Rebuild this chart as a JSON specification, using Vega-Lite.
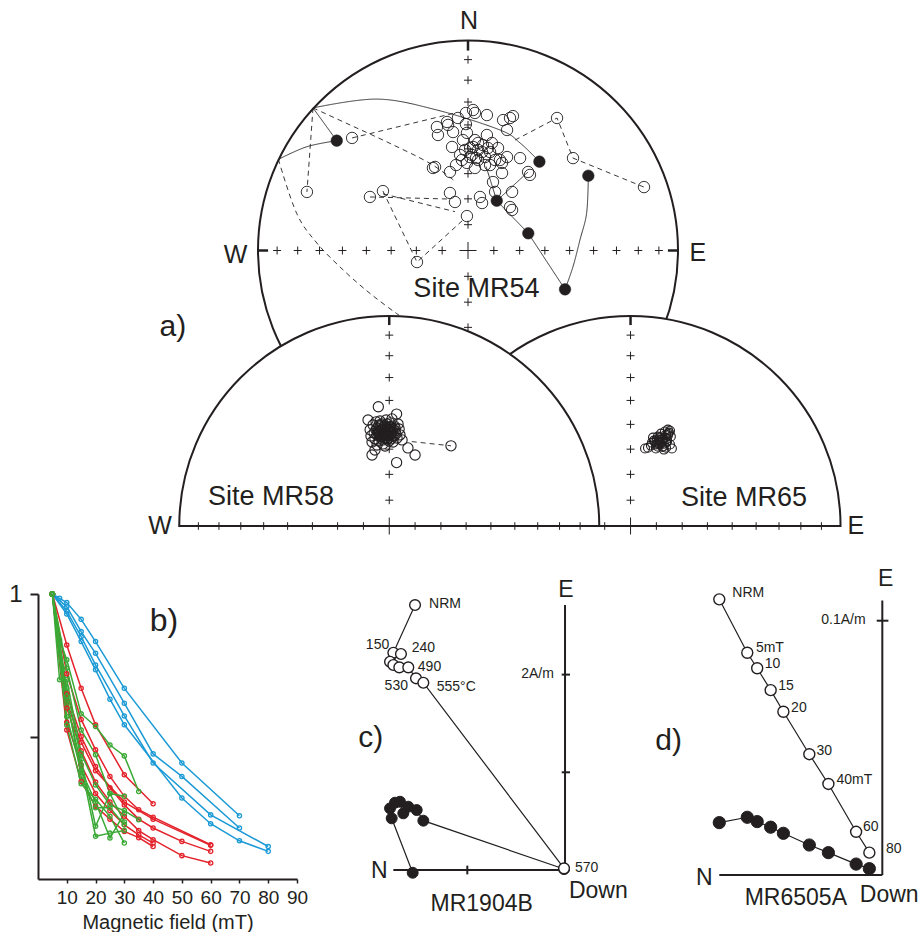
{
  "$schema": "https://vega.github.io/schema/vega-lite/v6.json",
  "background": "white",
  "padding": 0,
  "spacing": 0,
  "bounds": "flush",
  "config": {"view": {"stroke": null}, "font": "Liberation Sans"},
  "datasets": {
    "nets": [
      {"net": "MR54", "x": 0, "y": 0},
      {"net": "MR65", "x": 0.774, "y": -1.312},
      {"net": "MR58", "x": -0.375, "y": -1.312}
    ],
    "ticks": [
      {"kind": "plus", "x": 0, "y": 0.123}, {"kind": "plus", "x": 0, "y": 0.246}, {"kind": "plus", "x": 0, "y": 0.366}, {"kind": "plus", "x": 0, "y": 0.484},
      {"kind": "plus", "x": 0, "y": 0.598}, {"kind": "plus", "x": 0, "y": 0.707}, {"kind": "plus", "x": 0, "y": 0.811}, {"kind": "plus", "x": 0, "y": 0.909},
      {"kind": "plus", "x": 0, "y": -0.123}, {"kind": "plus", "x": 0, "y": -0.246}, {"kind": "plus", "x": 0, "y": -0.366},
      {"kind": "plus", "x": 0.123, "y": 0}, {"kind": "plus", "x": 0.246, "y": 0}, {"kind": "plus", "x": 0.366, "y": 0}, {"kind": "plus", "x": 0.484, "y": 0},
      {"kind": "plus", "x": 0.598, "y": 0}, {"kind": "plus", "x": 0.707, "y": 0}, {"kind": "plus", "x": 0.811, "y": 0}, {"kind": "plus", "x": 0.909, "y": 0},
      {"kind": "plus", "x": -0.123, "y": 0}, {"kind": "plus", "x": -0.246, "y": 0}, {"kind": "plus", "x": -0.366, "y": 0}, {"kind": "plus", "x": -0.484, "y": 0},
      {"kind": "plus", "x": -0.598, "y": 0}, {"kind": "plus", "x": -0.707, "y": 0}, {"kind": "plus", "x": -0.811, "y": 0}, {"kind": "plus", "x": -0.909, "y": 0},
      {"kind": "center", "x": 0, "y": 0},
      {"kind": "plus", "x": -0.375, "y": -1.189}, {"kind": "plus", "x": -0.375, "y": -1.066}, {"kind": "plus", "x": -0.375, "y": -0.946}, {"kind": "plus", "x": -0.375, "y": -0.828},
      {"kind": "plus", "x": -0.375, "y": -0.714}, {"kind": "plus", "x": -0.375, "y": -0.605}, {"kind": "plus", "x": -0.375, "y": -0.501}, {"kind": "plus", "x": -0.375, "y": -0.403},
      {"kind": "vtick", "x": -0.498, "y": -1.312}, {"kind": "vtick", "x": -0.621, "y": -1.312}, {"kind": "vtick", "x": -0.741, "y": -1.312}, {"kind": "vtick", "x": -0.859, "y": -1.312},
      {"kind": "vtick", "x": -0.973, "y": -1.312}, {"kind": "vtick", "x": -1.082, "y": -1.312}, {"kind": "vtick", "x": -1.186, "y": -1.312}, {"kind": "vtick", "x": -1.284, "y": -1.312},
      {"kind": "vtick", "x": -0.252, "y": -1.312}, {"kind": "vtick", "x": -0.129, "y": -1.312}, {"kind": "vtick", "x": -0.009, "y": -1.312}, {"kind": "vtick", "x": 0.109, "y": -1.312},
      {"kind": "vtick", "x": 0.223, "y": -1.312}, {"kind": "vtick", "x": 0.332, "y": -1.312}, {"kind": "vtick", "x": 0.436, "y": -1.312}, {"kind": "vtick", "x": 0.534, "y": -1.312},
      {"kind": "ctick", "x": -0.375, "y": -1.312},
      {"kind": "plus", "x": 0.774, "y": -1.189}, {"kind": "plus", "x": 0.774, "y": -1.066}, {"kind": "plus", "x": 0.774, "y": -0.946}, {"kind": "plus", "x": 0.774, "y": -0.828},
      {"kind": "plus", "x": 0.774, "y": -0.714}, {"kind": "plus", "x": 0.774, "y": -0.605}, {"kind": "plus", "x": 0.774, "y": -0.501}, {"kind": "plus", "x": 0.774, "y": -0.403},
      {"kind": "vtick", "x": 0.651, "y": -1.312}, {"kind": "vtick", "x": 0.897, "y": -1.312}, {"kind": "vtick", "x": 1.020, "y": -1.312}, {"kind": "vtick", "x": 1.140, "y": -1.312},
      {"kind": "vtick", "x": 1.258, "y": -1.312}, {"kind": "vtick", "x": 1.372, "y": -1.312}, {"kind": "vtick", "x": 1.481, "y": -1.312}, {"kind": "vtick", "x": 1.585, "y": -1.312},
      {"kind": "vtick", "x": 1.683, "y": -1.312},
      {"kind": "ctick", "x": 0.774, "y": -1.312}
    ],
    "edgeticks": [
      {"x": 0, "y": 1, "x2": 0, "y2": 0.952},
      {"x": -1, "y": 0, "x2": -0.952, "y2": 0},
      {"x": 1, "y": 0, "x2": 0.952, "y2": 0},
      {"x": -0.375, "y": -0.312, "x2": -0.375, "y2": -0.355},
      {"x": 0.774, "y": -0.312, "x2": 0.774, "y2": -0.355}
    ],
    "gc": [
      {"net": "MR54", "seg": "S1", "i": 0, "x": -0.738, "y": 0.679, "hemisphere": "lower", "trace": "arc"},
      {"net": "MR54", "seg": "S1", "i": 1, "x": -0.433, "y": 0.721, "hemisphere": "lower", "trace": "arc"},
      {"net": "MR54", "seg": "S1", "i": 2, "x": -0.148, "y": 0.669, "hemisphere": "lower", "trace": "arc"},
      {"net": "MR54", "seg": "S1", "i": 3, "x": 0.152, "y": 0.574, "hemisphere": "lower", "trace": "arc"},
      {"net": "MR54", "seg": "S1", "i": 4, "x": 0.248, "y": 0.512, "hemisphere": "lower", "trace": "arc"},
      {"net": "MR54", "seg": "S1", "i": 5, "x": 0.340, "y": 0.423, "hemisphere": "lower", "trace": "arc"},
      {"net": "MR54", "seg": "S2", "i": 0, "x": -0.738, "y": 0.679, "hemisphere": "lower", "trace": "straight"},
      {"net": "MR54", "seg": "S2", "i": 1, "x": -0.625, "y": 0.523, "hemisphere": "lower", "trace": "straight"},
      {"net": "MR54", "seg": "S3", "i": 0, "x": -0.903, "y": 0.434, "hemisphere": "lower", "trace": "arc"},
      {"net": "MR54", "seg": "S3", "i": 1, "x": -0.768, "y": 0.494, "hemisphere": "lower", "trace": "arc"},
      {"net": "MR54", "seg": "S3", "i": 2, "x": -0.625, "y": 0.523, "hemisphere": "lower", "trace": "arc"},
      {"net": "MR54", "seg": "S4", "i": 0, "x": 0.573, "y": 0.356, "hemisphere": "lower", "trace": "arc"},
      {"net": "MR54", "seg": "S4", "i": 1, "x": 0.565, "y": 0.179, "hemisphere": "lower", "trace": "arc"},
      {"net": "MR54", "seg": "S4", "i": 2, "x": 0.533, "y": 0.050, "hemisphere": "lower", "trace": "arc"},
      {"net": "MR54", "seg": "S4", "i": 3, "x": 0.500, "y": -0.077, "hemisphere": "lower", "trace": "arc"},
      {"net": "MR54", "seg": "S4", "i": 4, "x": 0.462, "y": -0.185, "hemisphere": "lower", "trace": "arc"},
      {"net": "MR54", "seg": "S5", "i": 0, "x": 0.137, "y": 0.237, "hemisphere": "lower", "trace": "straight"},
      {"net": "MR54", "seg": "S5", "i": 1, "x": 0.287, "y": 0.082, "hemisphere": "lower", "trace": "straight"},
      {"net": "MR54", "seg": "S5", "i": 2, "x": 0.462, "y": -0.185, "hemisphere": "lower", "trace": "straight"},
      {"net": "MR54", "seg": "S6", "i": 0, "x": 0.137, "y": 0.237, "hemisphere": "lower", "trace": "straight"},
      {"net": "MR54", "seg": "S6", "i": 1, "x": 0.086, "y": 0.400, "hemisphere": "lower", "trace": "straight"},
      {"net": "MR54", "seg": "S7", "i": 0, "x": 0.137, "y": 0.237, "hemisphere": "lower", "trace": "straight"},
      {"net": "MR54", "seg": "S7", "i": 1, "x": 0.286, "y": 0.374, "hemisphere": "lower", "trace": "straight"},
      {"net": "MR54", "seg": "D1", "i": 0, "x": -0.738, "y": 0.679, "hemisphere": "upper", "trace": "arc"},
      {"net": "MR54", "seg": "D1", "i": 1, "x": -0.562, "y": 0.598, "hemisphere": "upper", "trace": "arc"},
      {"net": "MR54", "seg": "D1", "i": 2, "x": -0.371, "y": 0.510, "hemisphere": "upper", "trace": "arc"},
      {"net": "MR54", "seg": "D1", "i": 3, "x": -0.181, "y": 0.415, "hemisphere": "upper", "trace": "arc"},
      {"net": "MR54", "seg": "D1", "i": 4, "x": -0.070, "y": 0.336, "hemisphere": "upper", "trace": "arc"},
      {"net": "MR54", "seg": "D2", "i": 0, "x": -0.738, "y": 0.679, "hemisphere": "upper", "trace": "straight"},
      {"net": "MR54", "seg": "D2", "i": 1, "x": -0.767, "y": 0.279, "hemisphere": "upper", "trace": "straight"},
      {"net": "MR54", "seg": "D3", "i": 0, "x": -0.903, "y": 0.434, "hemisphere": "upper", "trace": "arc"},
      {"net": "MR54", "seg": "D3", "i": 1, "x": -0.816, "y": 0.177, "hemisphere": "upper", "trace": "arc"},
      {"net": "MR54", "seg": "D3", "i": 2, "x": -0.720, "y": 0.036, "hemisphere": "upper", "trace": "arc"},
      {"net": "MR54", "seg": "D3", "i": 3, "x": -0.594, "y": -0.093, "hemisphere": "upper", "trace": "arc"},
      {"net": "MR54", "seg": "D3", "i": 4, "x": -0.467, "y": -0.204, "hemisphere": "upper", "trace": "arc"},
      {"net": "MR54", "seg": "D3", "i": 5, "x": -0.340, "y": -0.300, "hemisphere": "upper", "trace": "arc"},
      {"net": "MR54", "seg": "D3", "i": 6, "x": -0.250, "y": -0.360, "hemisphere": "upper", "trace": "arc"},
      {"net": "MR54", "seg": "D4", "i": 0, "x": -0.552, "y": 0.536, "hemisphere": "upper", "trace": "straight"},
      {"net": "MR54", "seg": "D4", "i": 1, "x": -0.062, "y": 0.655, "hemisphere": "upper", "trace": "straight"},
      {"net": "MR54", "seg": "D5", "i": 0, "x": -0.467, "y": 0.255, "hemisphere": "upper", "trace": "straight"},
      {"net": "MR54", "seg": "D5", "i": 1, "x": -0.086, "y": 0.245, "hemisphere": "upper", "trace": "straight"},
      {"net": "MR54", "seg": "D6", "i": 0, "x": -0.405, "y": 0.270, "hemisphere": "upper", "trace": "straight"},
      {"net": "MR54", "seg": "D6", "i": 1, "x": -0.062, "y": 0.185, "hemisphere": "upper", "trace": "straight"},
      {"net": "MR54", "seg": "D7", "i": 0, "x": -0.405, "y": 0.283, "hemisphere": "upper", "trace": "straight"},
      {"net": "MR54", "seg": "D7", "i": 1, "x": -0.243, "y": -0.055, "hemisphere": "upper", "trace": "straight"},
      {"net": "MR54", "seg": "D7", "i": 2, "x": -0.024, "y": 0.145, "hemisphere": "upper", "trace": "straight"},
      {"net": "MR54", "seg": "D8", "i": 0, "x": 0.224, "y": 0.526, "hemisphere": "upper", "trace": "straight"},
      {"net": "MR54", "seg": "D8", "i": 1, "x": 0.424, "y": 0.631, "hemisphere": "upper", "trace": "straight"},
      {"net": "MR54", "seg": "D8", "i": 2, "x": 0.500, "y": 0.440, "hemisphere": "upper", "trace": "straight"},
      {"net": "MR54", "seg": "D8", "i": 3, "x": 0.838, "y": 0.302, "hemisphere": "upper", "trace": "straight"},
      {"net": "MR58", "seg": "M1", "i": 0, "x": -0.268, "y": -0.910, "hemisphere": "upper", "trace": "straight"},
      {"net": "MR58", "seg": "M1", "i": 1, "x": -0.081, "y": -0.930, "hemisphere": "upper", "trace": "straight"}
    ],
    "dirs": [
      {"net": "MR54", "hemisphere": "upper", "x": -0.552, "y": 0.536}, {"net": "MR54", "hemisphere": "upper", "x": -0.767, "y": 0.279},
      {"net": "MR54", "hemisphere": "upper", "x": -0.467, "y": 0.255}, {"net": "MR54", "hemisphere": "upper", "x": -0.405, "y": 0.283},
      {"net": "MR54", "hemisphere": "upper", "x": -0.243, "y": -0.055}, {"net": "MR54", "hemisphere": "upper", "x": -0.148, "y": 0.588},
      {"net": "MR54", "hemisphere": "upper", "x": -0.100, "y": 0.612}, {"net": "MR54", "hemisphere": "upper", "x": -0.143, "y": 0.550},
      {"net": "MR54", "hemisphere": "upper", "x": -0.071, "y": 0.564}, {"net": "MR54", "hemisphere": "upper", "x": -0.076, "y": 0.493},
      {"net": "MR54", "hemisphere": "upper", "x": -0.024, "y": 0.526}, {"net": "MR54", "hemisphere": "upper", "x": -0.157, "y": 0.398},
      {"net": "MR54", "hemisphere": "upper", "x": -0.086, "y": 0.374}, {"net": "MR54", "hemisphere": "upper", "x": -0.005, "y": 0.417},
      {"net": "MR54", "hemisphere": "upper", "x": -0.086, "y": 0.274}, {"net": "MR54", "hemisphere": "upper", "x": -0.062, "y": 0.231},
      {"net": "MR54", "hemisphere": "upper", "x": -0.005, "y": 0.164}, {"net": "MR54", "hemisphere": "upper", "x": -0.010, "y": 0.655},
      {"net": "MR54", "hemisphere": "upper", "x": 0.024, "y": 0.669}, {"net": "MR54", "hemisphere": "upper", "x": -0.048, "y": 0.631},
      {"net": "MR54", "hemisphere": "upper", "x": 0.033, "y": 0.655}, {"net": "MR54", "hemisphere": "upper", "x": 0.090, "y": 0.645},
      {"net": "MR54", "hemisphere": "upper", "x": 0.167, "y": 0.621}, {"net": "MR54", "hemisphere": "upper", "x": 0.200, "y": 0.631},
      {"net": "MR54", "hemisphere": "upper", "x": 0.214, "y": 0.640}, {"net": "MR54", "hemisphere": "upper", "x": 0.186, "y": 0.574},
      {"net": "MR54", "hemisphere": "upper", "x": 0.424, "y": 0.631}, {"net": "MR54", "hemisphere": "upper", "x": 0.500, "y": 0.440},
      {"net": "MR54", "hemisphere": "upper", "x": 0.838, "y": 0.302}, {"net": "MR54", "hemisphere": "upper", "x": -0.095, "y": 0.598},
      {"net": "MR54", "hemisphere": "upper", "x": -0.005, "y": 0.560}, {"net": "MR54", "hemisphere": "upper", "x": 0.033, "y": 0.526},
      {"net": "MR54", "hemisphere": "upper", "x": 0.090, "y": 0.550}, {"net": "MR54", "hemisphere": "upper", "x": 0.024, "y": 0.493},
      {"net": "MR54", "hemisphere": "upper", "x": 0.067, "y": 0.469}, {"net": "MR54", "hemisphere": "upper", "x": 0.081, "y": 0.445},
      {"net": "MR54", "hemisphere": "upper", "x": 0.010, "y": 0.445}, {"net": "MR54", "hemisphere": "upper", "x": 0.143, "y": 0.488},
      {"net": "MR54", "hemisphere": "upper", "x": 0.152, "y": 0.431}, {"net": "MR54", "hemisphere": "upper", "x": 0.186, "y": 0.445},
      {"net": "MR54", "hemisphere": "upper", "x": 0.248, "y": 0.440}, {"net": "MR54", "hemisphere": "upper", "x": 0.162, "y": 0.417},
      {"net": "MR54", "hemisphere": "upper", "x": 0.162, "y": 0.369}, {"net": "MR54", "hemisphere": "upper", "x": 0.286, "y": 0.374},
      {"net": "MR54", "hemisphere": "upper", "x": 0.295, "y": 0.360}, {"net": "MR54", "hemisphere": "upper", "x": 0.119, "y": 0.326},
      {"net": "MR54", "hemisphere": "upper", "x": 0.210, "y": 0.279}, {"net": "MR54", "hemisphere": "upper", "x": 0.057, "y": 0.255},
      {"net": "MR54", "hemisphere": "upper", "x": 0.067, "y": 0.226}, {"net": "MR54", "hemisphere": "upper", "x": 0.129, "y": 0.279},
      {"net": "MR54", "hemisphere": "upper", "x": 0.200, "y": 0.207}, {"net": "MR54", "hemisphere": "upper", "x": 0.210, "y": 0.193},
      {"net": "MR54", "hemisphere": "upper", "x": -0.167, "y": 0.393}, {"net": "MR54", "hemisphere": "upper", "x": -0.038, "y": 0.455},
      {"net": "MR54", "hemisphere": "upper", "x": 0.048, "y": 0.431}, {"net": "MR54", "hemisphere": "upper", "x": 0.105, "y": 0.407},
      {"net": "MR54", "hemisphere": "upper", "x": -0.014, "y": 0.479}, {"net": "MR54", "hemisphere": "upper", "x": 0.048, "y": 0.479},
      {"net": "MR54", "hemisphere": "upper", "x": 0.019, "y": 0.455}, {"net": "MR54", "hemisphere": "upper", "x": 0.095, "y": 0.488},
      {"net": "MR54", "hemisphere": "upper", "x": 0.071, "y": 0.502}, {"net": "MR54", "hemisphere": "upper", "x": 0.038, "y": 0.440},
      {"net": "MR54", "hemisphere": "upper", "x": 0.048, "y": 0.512}, {"net": "MR54", "hemisphere": "upper", "x": 0.010, "y": 0.488},
      {"net": "MR54", "hemisphere": "upper", "x": 0.105, "y": 0.469}, {"net": "MR54", "hemisphere": "upper", "x": 0.129, "y": 0.431},
      {"net": "MR54", "hemisphere": "upper", "x": -0.029, "y": 0.431}, {"net": "MR54", "hemisphere": "upper", "x": 0.081, "y": 0.407},
      {"net": "MR54", "hemisphere": "upper", "x": 0.033, "y": 0.393}, {"net": "MR54", "hemisphere": "upper", "x": -0.057, "y": 0.407},
      {"net": "MR54", "hemisphere": "upper", "x": 0.114, "y": 0.512}, {"net": "MR54", "hemisphere": "upper", "x": -0.010, "y": 0.602},
      {"net": "MR54", "hemisphere": "lower", "x": -0.625, "y": 0.523}, {"net": "MR54", "hemisphere": "lower", "x": 0.340, "y": 0.423},
      {"net": "MR54", "hemisphere": "lower", "x": 0.573, "y": 0.356}, {"net": "MR54", "hemisphere": "lower", "x": 0.137, "y": 0.237},
      {"net": "MR54", "hemisphere": "lower", "x": 0.287, "y": 0.082}, {"net": "MR54", "hemisphere": "lower", "x": 0.462, "y": -0.185},
      {"net": "MR58", "hemisphere": "upper", "x": -0.395, "y": -0.864}, {"net": "MR58", "hemisphere": "upper", "x": -0.376, "y": -0.854},
      {"net": "MR58", "hemisphere": "upper", "x": -0.419, "y": -0.878}, {"net": "MR58", "hemisphere": "upper", "x": -0.362, "y": -0.883},
      {"net": "MR58", "hemisphere": "upper", "x": -0.433, "y": -0.845}, {"net": "MR58", "hemisphere": "upper", "x": -0.385, "y": -0.897},
      {"net": "MR58", "hemisphere": "upper", "x": -0.409, "y": -0.826}, {"net": "MR58", "hemisphere": "upper", "x": -0.347, "y": -0.859},
      {"net": "MR58", "hemisphere": "upper", "x": -0.447, "y": -0.869}, {"net": "MR58", "hemisphere": "upper", "x": -0.371, "y": -0.821},
      {"net": "MR58", "hemisphere": "upper", "x": -0.424, "y": -0.907}, {"net": "MR58", "hemisphere": "upper", "x": -0.338, "y": -0.893},
      {"net": "MR58", "hemisphere": "upper", "x": -0.452, "y": -0.831}, {"net": "MR58", "hemisphere": "upper", "x": -0.390, "y": -0.807},
      {"net": "MR58", "hemisphere": "upper", "x": -0.405, "y": -0.921}, {"net": "MR58", "hemisphere": "upper", "x": -0.357, "y": -0.912},
      {"net": "MR58", "hemisphere": "upper", "x": -0.438, "y": -0.816}, {"net": "MR58", "hemisphere": "upper", "x": -0.328, "y": -0.850},
      {"net": "MR58", "hemisphere": "upper", "x": -0.462, "y": -0.883}, {"net": "MR58", "hemisphere": "upper", "x": -0.366, "y": -0.840},
      {"net": "MR58", "hemisphere": "upper", "x": -0.414, "y": -0.888}, {"net": "MR58", "hemisphere": "upper", "x": -0.381, "y": -0.878},
      {"net": "MR58", "hemisphere": "upper", "x": -0.428, "y": -0.859}, {"net": "MR58", "hemisphere": "upper", "x": -0.352, "y": -0.835},
      {"net": "MR58", "hemisphere": "upper", "x": -0.443, "y": -0.897}, {"net": "MR58", "hemisphere": "upper", "x": -0.343, "y": -0.874},
      {"net": "MR58", "hemisphere": "upper", "x": -0.400, "y": -0.840}, {"net": "MR58", "hemisphere": "upper", "x": -0.376, "y": -0.907},
      {"net": "MR58", "hemisphere": "upper", "x": -0.419, "y": -0.812}, {"net": "MR58", "hemisphere": "upper", "x": -0.333, "y": -0.826},
      {"net": "MR58", "hemisphere": "upper", "x": -0.457, "y": -0.912}, {"net": "MR58", "hemisphere": "upper", "x": -0.395, "y": -0.931},
      {"net": "MR58", "hemisphere": "upper", "x": -0.362, "y": -0.802}, {"net": "MR58", "hemisphere": "upper", "x": -0.433, "y": -0.926},
      {"net": "MR58", "hemisphere": "upper", "x": -0.324, "y": -0.878}, {"net": "MR58", "hemisphere": "upper", "x": -0.466, "y": -0.854},
      {"net": "MR58", "hemisphere": "upper", "x": -0.385, "y": -0.850}, {"net": "MR58", "hemisphere": "upper", "x": -0.409, "y": -0.869},
      {"net": "MR58", "hemisphere": "upper", "x": -0.366, "y": -0.869}, {"net": "MR58", "hemisphere": "upper", "x": -0.400, "y": -0.893},
      {"net": "MR58", "hemisphere": "upper", "x": -0.390, "y": -0.869}, {"net": "MR58", "hemisphere": "upper", "x": -0.405, "y": -0.874},
      {"net": "MR58", "hemisphere": "upper", "x": -0.381, "y": -0.859}, {"net": "MR58", "hemisphere": "upper", "x": -0.414, "y": -0.854},
      {"net": "MR58", "hemisphere": "upper", "x": -0.371, "y": -0.878}, {"net": "MR58", "hemisphere": "upper", "x": -0.400, "y": -0.850},
      {"net": "MR58", "hemisphere": "upper", "x": -0.385, "y": -0.883}, {"net": "MR58", "hemisphere": "upper", "x": -0.409, "y": -0.883},
      {"net": "MR58", "hemisphere": "upper", "x": -0.366, "y": -0.854}, {"net": "MR58", "hemisphere": "upper", "x": -0.424, "y": -0.874},
      {"net": "MR58", "hemisphere": "upper", "x": -0.395, "y": -0.835}, {"net": "MR58", "hemisphere": "upper", "x": -0.390, "y": -0.893},
      {"net": "MR58", "hemisphere": "upper", "x": -0.419, "y": -0.840}, {"net": "MR58", "hemisphere": "upper", "x": -0.371, "y": -0.840},
      {"net": "MR58", "hemisphere": "upper", "x": -0.362, "y": -0.869}, {"net": "MR58", "hemisphere": "upper", "x": -0.428, "y": -0.869},
      {"net": "MR58", "hemisphere": "upper", "x": -0.381, "y": -0.897}, {"net": "MR58", "hemisphere": "upper", "x": -0.414, "y": -0.831},
      {"net": "MR58", "hemisphere": "upper", "x": -0.357, "y": -0.850}, {"net": "MR58", "hemisphere": "upper", "x": -0.433, "y": -0.878},
      {"net": "MR58", "hemisphere": "upper", "x": -0.385, "y": -0.826}, {"net": "MR58", "hemisphere": "upper", "x": -0.405, "y": -0.902},
      {"net": "MR58", "hemisphere": "upper", "x": -0.376, "y": -0.869}, {"net": "MR58", "hemisphere": "upper", "x": -0.409, "y": -0.859},
      {"net": "MR58", "hemisphere": "upper", "x": -0.395, "y": -0.874}, {"net": "MR58", "hemisphere": "upper", "x": -0.352, "y": -0.883},
      {"net": "MR58", "hemisphere": "upper", "x": -0.438, "y": -0.854}, {"net": "MR58", "hemisphere": "upper", "x": -0.366, "y": -0.897},
      {"net": "MR58", "hemisphere": "upper", "x": -0.424, "y": -0.831}, {"net": "MR58", "hemisphere": "upper", "x": -0.347, "y": -0.845},
      {"net": "MR58", "hemisphere": "upper", "x": -0.427, "y": -0.744}, {"net": "MR58", "hemisphere": "upper", "x": -0.340, "y": -0.779},
      {"net": "MR58", "hemisphere": "upper", "x": -0.340, "y": -1.010}, {"net": "MR58", "hemisphere": "upper", "x": -0.252, "y": -0.974},
      {"net": "MR58", "hemisphere": "upper", "x": -0.286, "y": -0.940}, {"net": "MR58", "hemisphere": "upper", "x": -0.443, "y": -0.950},
      {"net": "MR58", "hemisphere": "upper", "x": -0.081, "y": -0.930}, {"net": "MR58", "hemisphere": "upper", "x": -0.476, "y": -0.807},
      {"net": "MR58", "hemisphere": "upper", "x": -0.457, "y": -0.974}, {"net": "MR58", "hemisphere": "upper", "x": -0.314, "y": -0.902},
      {"net": "MR65", "hemisphere": "upper", "x": 0.914, "y": -0.910}, {"net": "MR65", "hemisphere": "upper", "x": 0.928, "y": -0.896},
      {"net": "MR65", "hemisphere": "upper", "x": 0.900, "y": -0.920}, {"net": "MR65", "hemisphere": "upper", "x": 0.943, "y": -0.915},
      {"net": "MR65", "hemisphere": "upper", "x": 0.885, "y": -0.905}, {"net": "MR65", "hemisphere": "upper", "x": 0.924, "y": -0.934},
      {"net": "MR65", "hemisphere": "upper", "x": 0.904, "y": -0.886}, {"net": "MR65", "hemisphere": "upper", "x": 0.952, "y": -0.881},
      {"net": "MR65", "hemisphere": "upper", "x": 0.957, "y": -0.867}, {"net": "MR65", "hemisphere": "upper", "x": 0.871, "y": -0.929},
      {"net": "MR65", "hemisphere": "upper", "x": 0.857, "y": -0.939}, {"net": "MR65", "hemisphere": "upper", "x": 0.962, "y": -0.924},
      {"net": "MR65", "hemisphere": "upper", "x": 0.933, "y": -0.948}, {"net": "MR65", "hemisphere": "upper", "x": 0.895, "y": -0.943},
      {"net": "MR65", "hemisphere": "upper", "x": 0.947, "y": -0.896}, {"net": "MR65", "hemisphere": "upper", "x": 0.881, "y": -0.891},
      {"net": "MR65", "hemisphere": "upper", "x": 0.919, "y": -0.872}, {"net": "MR65", "hemisphere": "upper", "x": 0.966, "y": -0.886},
      {"net": "MR65", "hemisphere": "upper", "x": 0.938, "y": -0.862}, {"net": "MR65", "hemisphere": "upper", "x": 0.914, "y": -0.924},
      {"net": "MR65", "hemisphere": "upper", "x": 0.909, "y": -0.900}, {"net": "MR65", "hemisphere": "upper", "x": 0.843, "y": -0.943},
      {"net": "MR65", "hemisphere": "upper", "x": 0.971, "y": -0.943}, {"net": "MR65", "hemisphere": "upper", "x": 0.943, "y": -0.939},
      {"net": "MR65", "hemisphere": "upper", "x": 0.919, "y": -0.915}, {"net": "MR65", "hemisphere": "upper", "x": 0.905, "y": -0.915},
      {"net": "MR65", "hemisphere": "upper", "x": 0.924, "y": -0.900}, {"net": "MR65", "hemisphere": "upper", "x": 0.900, "y": -0.900},
      {"net": "MR65", "hemisphere": "upper", "x": 0.933, "y": -0.920}, {"net": "MR65", "hemisphere": "upper", "x": 0.895, "y": -0.924},
      {"net": "MR65", "hemisphere": "upper", "x": 0.914, "y": -0.891}, {"net": "MR65", "hemisphere": "upper", "x": 0.938, "y": -0.891},
      {"net": "MR65", "hemisphere": "upper", "x": 0.890, "y": -0.910}, {"net": "MR65", "hemisphere": "upper", "x": 0.928, "y": -0.934},
      {"net": "MR65", "hemisphere": "upper", "x": 0.905, "y": -0.934}, {"net": "MR65", "hemisphere": "upper", "x": 0.948, "y": -0.910},
      {"net": "MR65", "hemisphere": "upper", "x": 0.943, "y": -0.877}, {"net": "MR65", "hemisphere": "upper", "x": 0.952, "y": -0.872},
      {"net": "MR65", "hemisphere": "upper", "x": 0.876, "y": -0.915}, {"net": "MR65", "hemisphere": "upper", "x": 0.952, "y": -0.853},
      {"net": "MR65", "hemisphere": "upper", "x": 0.962, "y": -0.858}
    ],
    "stereotext": [
      {"role": "cardinal", "x": 0.005, "y": 1.094, "label": "N"},
      {"role": "cardinal", "x": -1.107, "y": -0.021, "label": "W"},
      {"role": "cardinal", "x": 1.095, "y": -0.012, "label": "E"},
      {"role": "cardinal", "x": -1.467, "y": -1.312, "label": "W"},
      {"role": "cardinal", "x": 1.847, "y": -1.312, "label": "E"},
      {"role": "site", "x": 0.040, "y": -0.185, "label": "Site MR54"},
      {"role": "site", "x": -0.938, "y": -1.172, "label": "Site MR58"},
      {"role": "site", "x": 1.314, "y": -1.179, "label": "Site MR65"},
      {"role": "panel", "x": -1.405, "y": -0.363, "label": "a)"}
    ],
    "demag": [
      {"group": "A", "curve": "A1", "mT": 5, "m": 1}, {"group": "A", "curve": "A1", "mT": 7.5, "m": 0.985}, {"group": "A", "curve": "A1", "mT": 10, "m": 0.97}, {"group": "A", "curve": "A1", "mT": 15, "m": 0.911}, {"group": "A", "curve": "A1", "mT": 20, "m": 0.833}, {"group": "A", "curve": "A1", "mT": 30, "m": 0.669}, {"group": "A", "curve": "A1", "mT": 50, "m": 0.407}, {"group": "A", "curve": "A1", "mT": 70, "m": 0.222},
      {"group": "A", "curve": "A2", "mT": 5, "m": 1}, {"group": "A", "curve": "A2", "mT": 10, "m": 0.955}, {"group": "A", "curve": "A2", "mT": 15, "m": 0.868}, {"group": "A", "curve": "A2", "mT": 20, "m": 0.792}, {"group": "A", "curve": "A2", "mT": 30, "m": 0.617}, {"group": "A", "curve": "A2", "mT": 40, "m": 0.439}, {"group": "A", "curve": "A2", "mT": 50, "m": 0.36}, {"group": "A", "curve": "A2", "mT": 70, "m": 0.179},
      {"group": "A", "curve": "A3", "mT": 5, "m": 1}, {"group": "A", "curve": "A3", "mT": 10, "m": 0.94}, {"group": "A", "curve": "A3", "mT": 15, "m": 0.85}, {"group": "A", "curve": "A3", "mT": 20, "m": 0.751}, {"group": "A", "curve": "A3", "mT": 30, "m": 0.572}, {"group": "A", "curve": "A3", "mT": 40, "m": 0.407}, {"group": "A", "curve": "A3", "mT": 60, "m": 0.225}, {"group": "A", "curve": "A3", "mT": 80, "m": 0.114},
      {"group": "A", "curve": "A4", "mT": 5, "m": 1}, {"group": "A", "curve": "A4", "mT": 10, "m": 0.93}, {"group": "A", "curve": "A4", "mT": 15, "m": 0.833}, {"group": "A", "curve": "A4", "mT": 20, "m": 0.734}, {"group": "A", "curve": "A4", "mT": 25, "m": 0.631}, {"group": "A", "curve": "A4", "mT": 30, "m": 0.541}, {"group": "A", "curve": "A4", "mT": 50, "m": 0.284}, {"group": "A", "curve": "A4", "mT": 60, "m": 0.194}, {"group": "A", "curve": "A4", "mT": 70, "m": 0.134}, {"group": "A", "curve": "A4", "mT": 80, "m": 0.097},
      {"group": "B", "curve": "B1", "mT": 5, "m": 1}, {"group": "B", "curve": "B1", "mT": 10, "m": 0.821}, {"group": "B", "curve": "B1", "mT": 15, "m": 0.669}, {"group": "B", "curve": "B1", "mT": 20, "m": 0.541}, {"group": "B", "curve": "B1", "mT": 30, "m": 0.366}, {"group": "B", "curve": "B1", "mT": 40, "m": 0.264},
      {"group": "B", "curve": "B2", "mT": 5, "m": 1}, {"group": "B", "curve": "B2", "mT": 10, "m": 0.72}, {"group": "B", "curve": "B2", "mT": 15, "m": 0.56}, {"group": "B", "curve": "B2", "mT": 20, "m": 0.453}, {"group": "B", "curve": "B2", "mT": 25, "m": 0.36}, {"group": "B", "curve": "B2", "mT": 30, "m": 0.29}, {"group": "B", "curve": "B2", "mT": 35, "m": 0.243}, {"group": "B", "curve": "B2", "mT": 40, "m": 0.217}, {"group": "B", "curve": "B2", "mT": 60, "m": 0.12},
      {"group": "B", "curve": "B3", "mT": 5, "m": 1}, {"group": "B", "curve": "B3", "mT": 10, "m": 0.65}, {"group": "B", "curve": "B3", "mT": 15, "m": 0.5}, {"group": "B", "curve": "B3", "mT": 20, "m": 0.395}, {"group": "B", "curve": "B3", "mT": 25, "m": 0.32}, {"group": "B", "curve": "B3", "mT": 30, "m": 0.26}, {"group": "B", "curve": "B3", "mT": 35, "m": 0.21}, {"group": "B", "curve": "B3", "mT": 40, "m": 0.179}, {"group": "B", "curve": "B3", "mT": 50, "m": 0.132}, {"group": "B", "curve": "B3", "mT": 60, "m": 0.097},
      {"group": "B", "curve": "B4", "mT": 5, "m": 1}, {"group": "B", "curve": "B4", "mT": 10, "m": 0.6}, {"group": "B", "curve": "B4", "mT": 15, "m": 0.45}, {"group": "B", "curve": "B4", "mT": 20, "m": 0.34}, {"group": "B", "curve": "B4", "mT": 25, "m": 0.27}, {"group": "B", "curve": "B4", "mT": 30, "m": 0.22}, {"group": "B", "curve": "B4", "mT": 35, "m": 0.17}, {"group": "B", "curve": "B4", "mT": 40, "m": 0.138}, {"group": "B", "curve": "B4", "mT": 50, "m": 0.082}, {"group": "B", "curve": "B4", "mT": 60, "m": 0.056},
      {"group": "B", "curve": "B5", "mT": 5, "m": 1}, {"group": "B", "curve": "B5", "mT": 10, "m": 0.55}, {"group": "B", "curve": "B5", "mT": 15, "m": 0.4}, {"group": "B", "curve": "B5", "mT": 20, "m": 0.3}, {"group": "B", "curve": "B5", "mT": 25, "m": 0.24}, {"group": "B", "curve": "B5", "mT": 30, "m": 0.19}, {"group": "B", "curve": "B5", "mT": 35, "m": 0.155}, {"group": "B", "curve": "B5", "mT": 40, "m": 0.126},
      {"group": "B", "curve": "B6", "mT": 5, "m": 1}, {"group": "B", "curve": "B6", "mT": 10, "m": 0.523}, {"group": "B", "curve": "B6", "mT": 15, "m": 0.342}, {"group": "B", "curve": "B6", "mT": 20, "m": 0.255}, {"group": "B", "curve": "B6", "mT": 25, "m": 0.21}, {"group": "B", "curve": "B6", "mT": 30, "m": 0.167}, {"group": "B", "curve": "B6", "mT": 35, "m": 0.145}, {"group": "B", "curve": "B6", "mT": 40, "m": 0.114},
      {"group": "B", "curve": "B7", "mT": 5, "m": 1}, {"group": "B", "curve": "B7", "mT": 10, "m": 0.62}, {"group": "B", "curve": "B7", "mT": 15, "m": 0.48}, {"group": "B", "curve": "B7", "mT": 20, "m": 0.38}, {"group": "B", "curve": "B7", "mT": 30, "m": 0.27}, {"group": "B", "curve": "B7", "mT": 40, "m": 0.21}, {"group": "B", "curve": "B7", "mT": 60, "m": 0.118},
      {"group": "C", "curve": "C1", "mT": 5, "m": 1}, {"group": "C", "curve": "C1", "mT": 7.5, "m": 0.839}, {"group": "C", "curve": "C1", "mT": 10, "m": 0.769}, {"group": "C", "curve": "C1", "mT": 15, "m": 0.58}, {"group": "C", "curve": "C1", "mT": 20, "m": 0.535}, {"group": "C", "curve": "C1", "mT": 25, "m": 0.47}, {"group": "C", "curve": "C1", "mT": 30, "m": 0.432}, {"group": "C", "curve": "C1", "mT": 35, "m": 0.307},
      {"group": "C", "curve": "C2", "mT": 5, "m": 1}, {"group": "C", "curve": "C2", "mT": 10, "m": 0.74}, {"group": "C", "curve": "C2", "mT": 15, "m": 0.523}, {"group": "C", "curve": "C2", "mT": 20, "m": 0.436}, {"group": "C", "curve": "C2", "mT": 25, "m": 0.3}, {"group": "C", "curve": "C2", "mT": 30, "m": 0.29},
      {"group": "C", "curve": "C3", "mT": 5, "m": 1}, {"group": "C", "curve": "C3", "mT": 7.5, "m": 0.699}, {"group": "C", "curve": "C3", "mT": 10, "m": 0.7}, {"group": "C", "curve": "C3", "mT": 15, "m": 0.44}, {"group": "C", "curve": "C3", "mT": 20, "m": 0.33}, {"group": "C", "curve": "C3", "mT": 25, "m": 0.26}, {"group": "C", "curve": "C3", "mT": 30, "m": 0.24}, {"group": "C", "curve": "C3", "mT": 35, "m": 0.208},
      {"group": "C", "curve": "C4", "mT": 5, "m": 1}, {"group": "C", "curve": "C4", "mT": 10, "m": 0.67}, {"group": "C", "curve": "C4", "mT": 15, "m": 0.42}, {"group": "C", "curve": "C4", "mT": 20, "m": 0.185}, {"group": "C", "curve": "C4", "mT": 25, "m": 0.3}, {"group": "C", "curve": "C4", "mT": 30, "m": 0.2},
      {"group": "C", "curve": "C5", "mT": 5, "m": 1}, {"group": "C", "curve": "C5", "mT": 10, "m": 0.62}, {"group": "C", "curve": "C5", "mT": 15, "m": 0.4}, {"group": "C", "curve": "C5", "mT": 20, "m": 0.15}, {"group": "C", "curve": "C5", "mT": 25, "m": 0.161}, {"group": "C", "curve": "C5", "mT": 30, "m": 0.17},
      {"group": "C", "curve": "C6", "mT": 5, "m": 1}, {"group": "C", "curve": "C6", "mT": 10, "m": 0.57}, {"group": "C", "curve": "C6", "mT": 15, "m": 0.38}, {"group": "C", "curve": "C6", "mT": 20, "m": 0.27}, {"group": "C", "curve": "C6", "mT": 25, "m": 0.144}, {"group": "C", "curve": "C6", "mT": 30, "m": 0.23},
      {"group": "C", "curve": "C7", "mT": 5, "m": 1}, {"group": "C", "curve": "C7", "mT": 10, "m": 0.54}, {"group": "C", "curve": "C7", "mT": 15, "m": 0.334}, {"group": "C", "curve": "C7", "mT": 20, "m": 0.28}, {"group": "C", "curve": "C7", "mT": 25, "m": 0.22}, {"group": "C", "curve": "C7", "mT": 30, "m": 0.126},
      {"group": "C", "curve": "C8", "mT": 5, "m": 1}, {"group": "C", "curve": "C8", "mT": 10, "m": 0.64}, {"group": "C", "curve": "C8", "mT": 15, "m": 0.36}, {"group": "C", "curve": "C8", "mT": 20, "m": 0.25}, {"group": "C", "curve": "C8", "mT": 25, "m": 0.25}, {"group": "C", "curve": "C8", "mT": 30, "m": 0.19}
    ],
    "zijc": [
      {"proj": "horizontal", "i": 0, "x": 1.535, "y": 2.712}, {"proj": "horizontal", "i": 1, "x": 1.757, "y": 2.224},
      {"proj": "horizontal", "i": 2, "x": 1.679, "y": 2.211}, {"proj": "horizontal", "i": 3, "x": 1.791, "y": 2.132},
      {"proj": "horizontal", "i": 4, "x": 1.757, "y": 2.098}, {"proj": "horizontal", "i": 5, "x": 1.696, "y": 2.074},
      {"proj": "horizontal", "i": 6, "x": 1.604, "y": 2.074}, {"proj": "horizontal", "i": 7, "x": 1.525, "y": 1.962},
      {"proj": "horizontal", "i": 8, "x": 1.450, "y": 1.917}, {"proj": "horizontal", "i": 9, "x": 0.010, "y": 0.017},
      {"proj": "vertical", "i": 0, "x": 1.559, "y": -0.028}, {"proj": "vertical", "i": 1, "x": 1.774, "y": 0.529},
      {"proj": "vertical", "i": 2, "x": 1.791, "y": 0.631}, {"proj": "vertical", "i": 3, "x": 1.740, "y": 0.689},
      {"proj": "vertical", "i": 4, "x": 1.689, "y": 0.699}, {"proj": "vertical", "i": 5, "x": 1.655, "y": 0.580},
      {"proj": "vertical", "i": 6, "x": 1.604, "y": 0.648}, {"proj": "vertical", "i": 7, "x": 1.518, "y": 0.614},
      {"proj": "vertical", "i": 8, "x": 1.450, "y": 0.505}, {"proj": "vertical", "i": 9, "x": 0.010, "y": 0.010}
    ],
    "zijcaxes": [
      {"x": 0, "y": 0, "x2": 0, "y2": 2.712},
      {"x": 0, "y": 0, "x2": 1.757, "y2": 0},
      {"x": 0.034, "y": 1, "x2": -0.051, "y2": 1},
      {"x": 0.034, "y": 2, "x2": -0.051, "y2": 2},
      {"x": 1.0, "y": -0.045, "x2": 1.0, "y2": 0.045}
    ],
    "zijctext": [
      {"role": "step", "x": 1.228, "y": 2.723, "label": "NRM"},
      {"role": "step", "x": 1.919, "y": 2.303, "label": "150"},
      {"role": "step", "x": 1.450, "y": 2.269, "label": "240"},
      {"role": "step", "x": 1.387, "y": 2.075, "label": "490"},
      {"role": "step", "x": 1.727, "y": 1.883, "label": "530"},
      {"role": "step", "x": 1.113, "y": 1.870, "label": "555°C"},
      {"role": "step", "x": -0.222, "y": 0.017, "label": "570"},
      {"role": "step", "x": 0.281, "y": 2.003, "label": "2A/m"},
      {"role": "axis", "x": -0.010, "y": 2.866, "label": "E"},
      {"role": "axis", "x": 1.901, "y": -0.013, "label": "N"},
      {"role": "axis", "x": -0.341, "y": -0.215, "label": "Down"},
      {"role": "axis", "x": 0.853, "y": -0.348, "label": "MR1904B"},
      {"role": "panel", "x": 1.988, "y": 1.353, "label": "c)"}
    ],
    "zijd": [
      {"proj": "horizontal", "i": 0, "x": 0.0641, "y": 0.1084}, {"proj": "horizontal", "i": 1, "x": 0.0531, "y": 0.0874},
      {"proj": "horizontal", "i": 2, "x": 0.0492, "y": 0.0813}, {"proj": "horizontal", "i": 3, "x": 0.0439, "y": 0.0727},
      {"proj": "horizontal", "i": 4, "x": 0.0389, "y": 0.0642}, {"proj": "horizontal", "i": 5, "x": 0.0287, "y": 0.0475},
      {"proj": "horizontal", "i": 6, "x": 0.0212, "y": 0.0358}, {"proj": "horizontal", "i": 7, "x": 0.0103, "y": 0.0170},
      {"proj": "horizontal", "i": 8, "x": 0.0051, "y": 0.0088},
      {"proj": "vertical", "i": 0, "x": 0.0641, "y": 0.0206}, {"proj": "vertical", "i": 1, "x": 0.0531, "y": 0.0227},
      {"proj": "vertical", "i": 2, "x": 0.0492, "y": 0.0210}, {"proj": "vertical", "i": 3, "x": 0.0439, "y": 0.0188},
      {"proj": "vertical", "i": 4, "x": 0.0389, "y": 0.0164}, {"proj": "vertical", "i": 5, "x": 0.0287, "y": 0.0118},
      {"proj": "vertical", "i": 6, "x": 0.0212, "y": 0.0088}, {"proj": "vertical", "i": 7, "x": 0.0103, "y": 0.0043},
      {"proj": "vertical", "i": 8, "x": 0.0051, "y": 0.0025}
    ],
    "zijdaxes": [
      {"x": 0, "y": 0, "x2": 0, "y2": 0.1079},
      {"x": 0, "y": 0, "x2": 0.0641, "y2": 0},
      {"x": 0.0022, "y": 0.1, "x2": -0.0024, "y2": 0.1}
    ],
    "zijdtext": [
      {"role": "step", "x": 0.0527, "y": 0.1108, "label": "NRM"},
      {"role": "step", "x": 0.0442, "y": 0.0893, "label": "5mT"},
      {"role": "step", "x": 0.0432, "y": 0.0830, "label": "10"},
      {"role": "step", "x": 0.0379, "y": 0.0743, "label": "15"},
      {"role": "step", "x": 0.0328, "y": 0.0658, "label": "20"},
      {"role": "step", "x": 0.0228, "y": 0.0489, "label": "30"},
      {"role": "step", "x": 0.0110, "y": 0.0374, "label": "40mT"},
      {"role": "step", "x": 0.0045, "y": 0.0190, "label": "60"},
      {"role": "step", "x": -0.0045, "y": 0.0101, "label": "80"},
      {"role": "step", "x": 0.0153, "y": 0.1003, "label": "0.1A/m"},
      {"role": "axis", "x": -0.0013, "y": 0.1164, "label": "E"},
      {"role": "axis", "x": 0.0700, "y": -0.0013, "label": "N"},
      {"role": "axis", "x": -0.0027, "y": -0.0079, "label": "Down"},
      {"role": "axis", "x": 0.0340, "y": -0.0092, "label": "MR6505A"},
      {"role": "panel", "x": 0.0840, "y": 0.0528, "label": "d)"}
    ]
  },
  "vconcat": [
    {
      "width": 920,
      "height": 594,
      "encoding": {
        "x": {"field": "x", "type": "quantitative", "scale": {"domain": [-2.2286, 2.1524], "nice": false, "zero": false}, "axis": null},
        "y": {"field": "y", "type": "quantitative", "scale": {"domain": [-1.6357, 1.1929], "nice": false, "zero": false}, "axis": null}
      },
      "layer": [
        {
          "data": {"name": "nets"},
          "transform": [{"filter": "datum.net == 'MR54'"}],
          "mark": {"type": "point", "shape": "circle", "size": 176400, "filled": false, "stroke": "#231f20", "strokeWidth": 2, "opacity": 1}
        },
        {
          "data": {"name": "gc"},
          "transform": [{"filter": "datum.net == 'MR54' && datum.trace == 'arc'"}],
          "mark": {"type": "line", "interpolate": "cardinal", "stroke": "#231f20", "strokeWidth": 0.9},
          "encoding": {
            "detail": {"field": "seg"},
            "order": {"field": "i", "type": "quantitative"},
            "strokeDash": {"field": "hemisphere", "type": "nominal", "scale": {"domain": ["lower", "upper"], "range": [[1, 0], [5, 4]]}, "legend": null}
          }
        },
        {
          "data": {"name": "gc"},
          "transform": [{"filter": "datum.net == 'MR54' && datum.trace == 'straight'"}],
          "mark": {"type": "line", "stroke": "#231f20", "strokeWidth": 0.9},
          "encoding": {
            "detail": {"field": "seg"},
            "order": {"field": "i", "type": "quantitative"},
            "strokeDash": {"field": "hemisphere", "type": "nominal", "scale": {"domain": ["lower", "upper"], "range": [[1, 0], [5, 4]]}, "legend": null}
          }
        },
        {
          "data": {"name": "dirs"},
          "transform": [{"filter": "datum.net == 'MR54' && datum.hemisphere == 'upper'"}],
          "mark": {"type": "point", "shape": "circle", "size": 130, "filled": false, "stroke": "#231f20", "strokeWidth": 0.9, "opacity": 1}
        },
        {
          "data": {"name": "dirs"},
          "transform": [{"filter": "datum.net == 'MR54' && datum.hemisphere == 'lower'"}],
          "mark": {"type": "point", "shape": "circle", "size": 135, "filled": true, "fill": "#231f20", "stroke": "#231f20", "strokeWidth": 0.5, "opacity": 1}
        },
        {
          "data": {"name": "nets"},
          "transform": [{"filter": "datum.net != 'MR54'"}],
          "mark": {"type": "point", "shape": "M-1,0A1,1,0,0,1,1,0Z", "size": 176400, "filled": true, "fill": "white", "stroke": "#231f20", "strokeWidth": 2, "opacity": 1}
        },
        {
          "data": {"name": "ticks"},
          "mark": {"type": "point", "size": 289, "filled": false, "stroke": "#231f20", "strokeWidth": 1, "opacity": 1},
          "encoding": {
            "shape": {"field": "kind", "type": "nominal", "scale": {"domain": ["plus", "center", "vtick", "ctick"], "range": ["M-0.47,0H0.47M0,-0.47V0.47", "M-1,0H1M0,-1V1", "M0,-0.45V0.45", "M0,-1V1"]}, "legend": null}
          }
        },
        {
          "data": {"name": "edgeticks"},
          "mark": {"type": "rule", "stroke": "#231f20", "strokeWidth": 2.5},
          "encoding": {"x2": {"field": "x2"}, "y2": {"field": "y2"}}
        },
        {
          "data": {"name": "gc"},
          "transform": [{"filter": "datum.net == 'MR58'"}],
          "mark": {"type": "line", "stroke": "#231f20", "strokeWidth": 0.9},
          "encoding": {
            "detail": {"field": "seg"},
            "order": {"field": "i", "type": "quantitative"},
            "strokeDash": {"field": "hemisphere", "type": "nominal", "scale": {"domain": ["lower", "upper"], "range": [[1, 0], [5, 4]]}, "legend": null}
          }
        },
        {
          "data": {"name": "dirs"},
          "transform": [{"filter": "datum.net == 'MR58'"}],
          "mark": {"type": "point", "shape": "circle", "size": 105, "filled": false, "stroke": "#231f20", "strokeWidth": 1.1, "opacity": 1}
        },
        {
          "data": {"name": "dirs"},
          "transform": [{"filter": "datum.net == 'MR65'"}],
          "mark": {"type": "point", "shape": "circle", "size": 80, "filled": false, "stroke": "#231f20", "strokeWidth": 1.1, "opacity": 1}
        },
        {
          "data": {"name": "stereotext"},
          "transform": [{"filter": "datum.role == 'cardinal'"}],
          "mark": {"type": "text", "fontSize": 25, "align": "center", "baseline": "middle", "color": "#231f20"},
          "encoding": {"text": {"field": "label"}}
        },
        {
          "data": {"name": "stereotext"},
          "transform": [{"filter": "datum.role == 'site'"}],
          "mark": {"type": "text", "fontSize": 27, "align": "center", "baseline": "middle", "color": "#231f20"},
          "encoding": {"text": {"field": "label"}}
        },
        {
          "data": {"name": "stereotext"},
          "transform": [{"filter": "datum.role == 'panel'"}],
          "mark": {"type": "text", "fontSize": 30, "align": "center", "baseline": "middle", "color": "#231f20"},
          "encoding": {"text": {"field": "label"}}
        }
      ]
    },
    {
      "spacing": 0,
      "bounds": "flush",
      "hconcat": [
        {
          "width": 38,
          "height": 285,
          "data": {"values": [{"t": ""}]},
          "mark": {"type": "text"},
          "encoding": {"text": {"field": "t"}}
        },
        {
          "width": 259,
          "height": 285,
          "encoding": {
            "x": {"field": "mT", "type": "quantitative", "scale": {"domain": [0, 90], "nice": false, "zero": false},
                  "axis": {"values": [10, 20, 30, 40, 50, 60, 70, 80, 90], "grid": false, "tickSize": 4, "tickWidth": 1.5, "tickColor": "#231f20", "domainWidth": 2, "domainColor": "#231f20", "labelFontSize": 19, "labelColor": "#231f20", "labelPadding": 5, "labelFlush": false, "labelOverlap": false, "title": "Magnetic field (mT)", "titleFontSize": 20, "titleFontWeight": "normal", "titleColor": "#231f20", "titlePadding": 5}},
            "y": {"field": "m", "type": "quantitative", "scale": {"domain": [0, 1], "nice": false, "zero": false},
                  "axis": {"values": [0.5, 1], "labelExpr": "datum.value == 1 ? '1' : ''", "grid": false, "tickSize": 8, "tickWidth": 2, "tickColor": "#231f20", "domainWidth": 2, "domainColor": "#231f20", "labelFontSize": 24, "labelColor": "#231f20", "labelPadding": 8, "labelFlush": false, "title": null}}
          },
          "layer": [
            {
              "data": {"name": "demag"},
              "mark": {"type": "line", "strokeWidth": 1.5},
              "encoding": {
                "color": {"field": "group", "type": "nominal", "scale": {"domain": ["A", "B", "C"], "range": ["#1b9ad6", "#e4222b", "#3aa935"]}, "legend": null},
                "detail": {"field": "curve"},
                "order": {"field": "mT", "type": "quantitative"}
              }
            },
            {
              "data": {"name": "demag"},
              "mark": {"type": "point", "shape": "circle", "size": 18, "filled": false, "strokeWidth": 1.3, "opacity": 1},
              "encoding": {
                "color": {"field": "group", "type": "nominal", "scale": {"domain": ["A", "B", "C"], "range": ["#1b9ad6", "#e4222b", "#3aa935"]}, "legend": null}
              }
            },
            {
              "data": {"values": [{"mT": 43.8, "m": 0.905, "label": "b)"}]},
              "mark": {"type": "text", "fontSize": 32, "align": "center", "baseline": "middle", "color": "#231f20"},
              "encoding": {"text": {"field": "label"}}
            }
          ]
        },
        {
          "width": 333,
          "height": 285,
          "encoding": {
            "x": {"field": "x", "type": "quantitative", "scale": {"domain": [-0.665, 2.743], "reverse": true, "nice": false, "zero": false}, "axis": null},
            "y": {"field": "y", "type": "quantitative", "scale": {"domain": [-0.092, 2.825], "nice": false, "zero": false}, "axis": null}
          },
          "layer": [
            {
              "data": {"name": "zijcaxes"},
              "mark": {"type": "rule", "stroke": "#231f20", "strokeWidth": 2},
              "encoding": {"x2": {"field": "x2"}, "y2": {"field": "y2"}}
            },
            {
              "data": {"name": "zijc"},
              "mark": {"type": "line", "stroke": "#231f20", "strokeWidth": 1.2},
              "encoding": {"detail": {"field": "proj"}, "order": {"field": "i", "type": "quantitative"}}
            },
            {
              "data": {"name": "zijc"},
              "transform": [{"filter": "datum.proj == 'vertical'"}],
              "mark": {"type": "point", "shape": "circle", "size": 120, "filled": true, "fill": "#231f20", "stroke": "#231f20", "strokeWidth": 1, "opacity": 1}
            },
            {
              "data": {"name": "zijc"},
              "transform": [{"filter": "datum.proj == 'horizontal'"}],
              "mark": {"type": "point", "shape": "circle", "size": 115, "filled": true, "fill": "white", "stroke": "#231f20", "strokeWidth": 1.4, "opacity": 1}
            },
            {
              "data": {"name": "zijctext"},
              "transform": [{"filter": "datum.role == 'step'"}],
              "mark": {"type": "text", "fontSize": 14, "align": "center", "baseline": "middle", "color": "#231f20"},
              "encoding": {"text": {"field": "label"}}
            },
            {
              "data": {"name": "zijctext"},
              "transform": [{"filter": "datum.role == 'axis'"}],
              "mark": {"type": "text", "fontSize": 23, "align": "center", "baseline": "middle", "color": "#231f20"},
              "encoding": {"text": {"field": "label"}}
            },
            {
              "data": {"name": "zijctext"},
              "transform": [{"filter": "datum.role == 'panel'"}],
              "mark": {"type": "text", "fontSize": 30, "align": "center", "baseline": "middle", "color": "#231f20"},
              "encoding": {"text": {"field": "label"}}
            }
          ]
        },
        {
          "width": 290,
          "height": 285,
          "encoding": {
            "x": {"field": "x", "type": "quantitative", "scale": {"domain": [-0.01482, 0.09921], "reverse": true, "nice": false, "zero": false}, "axis": null},
            "y": {"field": "y", "type": "quantitative", "scale": {"domain": [-0.00157, 0.1105], "nice": false, "zero": false}, "axis": null}
          },
          "layer": [
            {
              "data": {"name": "zijdaxes"},
              "mark": {"type": "rule", "stroke": "#231f20", "strokeWidth": 2},
              "encoding": {"x2": {"field": "x2"}, "y2": {"field": "y2"}}
            },
            {
              "data": {"name": "zijd"},
              "mark": {"type": "line", "stroke": "#231f20", "strokeWidth": 1.2},
              "encoding": {"detail": {"field": "proj"}, "order": {"field": "i", "type": "quantitative"}}
            },
            {
              "data": {"name": "zijd"},
              "transform": [{"filter": "datum.proj == 'vertical'"}],
              "mark": {"type": "point", "shape": "circle", "size": 150, "filled": true, "fill": "#231f20", "stroke": "#231f20", "strokeWidth": 1, "opacity": 1}
            },
            {
              "data": {"name": "zijd"},
              "transform": [{"filter": "datum.proj == 'horizontal'"}],
              "mark": {"type": "point", "shape": "circle", "size": 121, "filled": true, "fill": "white", "stroke": "#231f20", "strokeWidth": 1.4, "opacity": 1}
            },
            {
              "data": {"name": "zijdtext"},
              "transform": [{"filter": "datum.role == 'step'"}],
              "mark": {"type": "text", "fontSize": 14, "align": "center", "baseline": "middle", "color": "#231f20"},
              "encoding": {"text": {"field": "label"}}
            },
            {
              "data": {"name": "zijdtext"},
              "transform": [{"filter": "datum.role == 'axis'"}],
              "mark": {"type": "text", "fontSize": 23, "align": "center", "baseline": "middle", "color": "#231f20"},
              "encoding": {"text": {"field": "label"}}
            },
            {
              "data": {"name": "zijdtext"},
              "transform": [{"filter": "datum.role == 'panel'"}],
              "mark": {"type": "text", "fontSize": 30, "align": "center", "baseline": "middle", "color": "#231f20"},
              "encoding": {"text": {"field": "label"}}
            }
          ]
        }
      ]
    }
  ]
}
